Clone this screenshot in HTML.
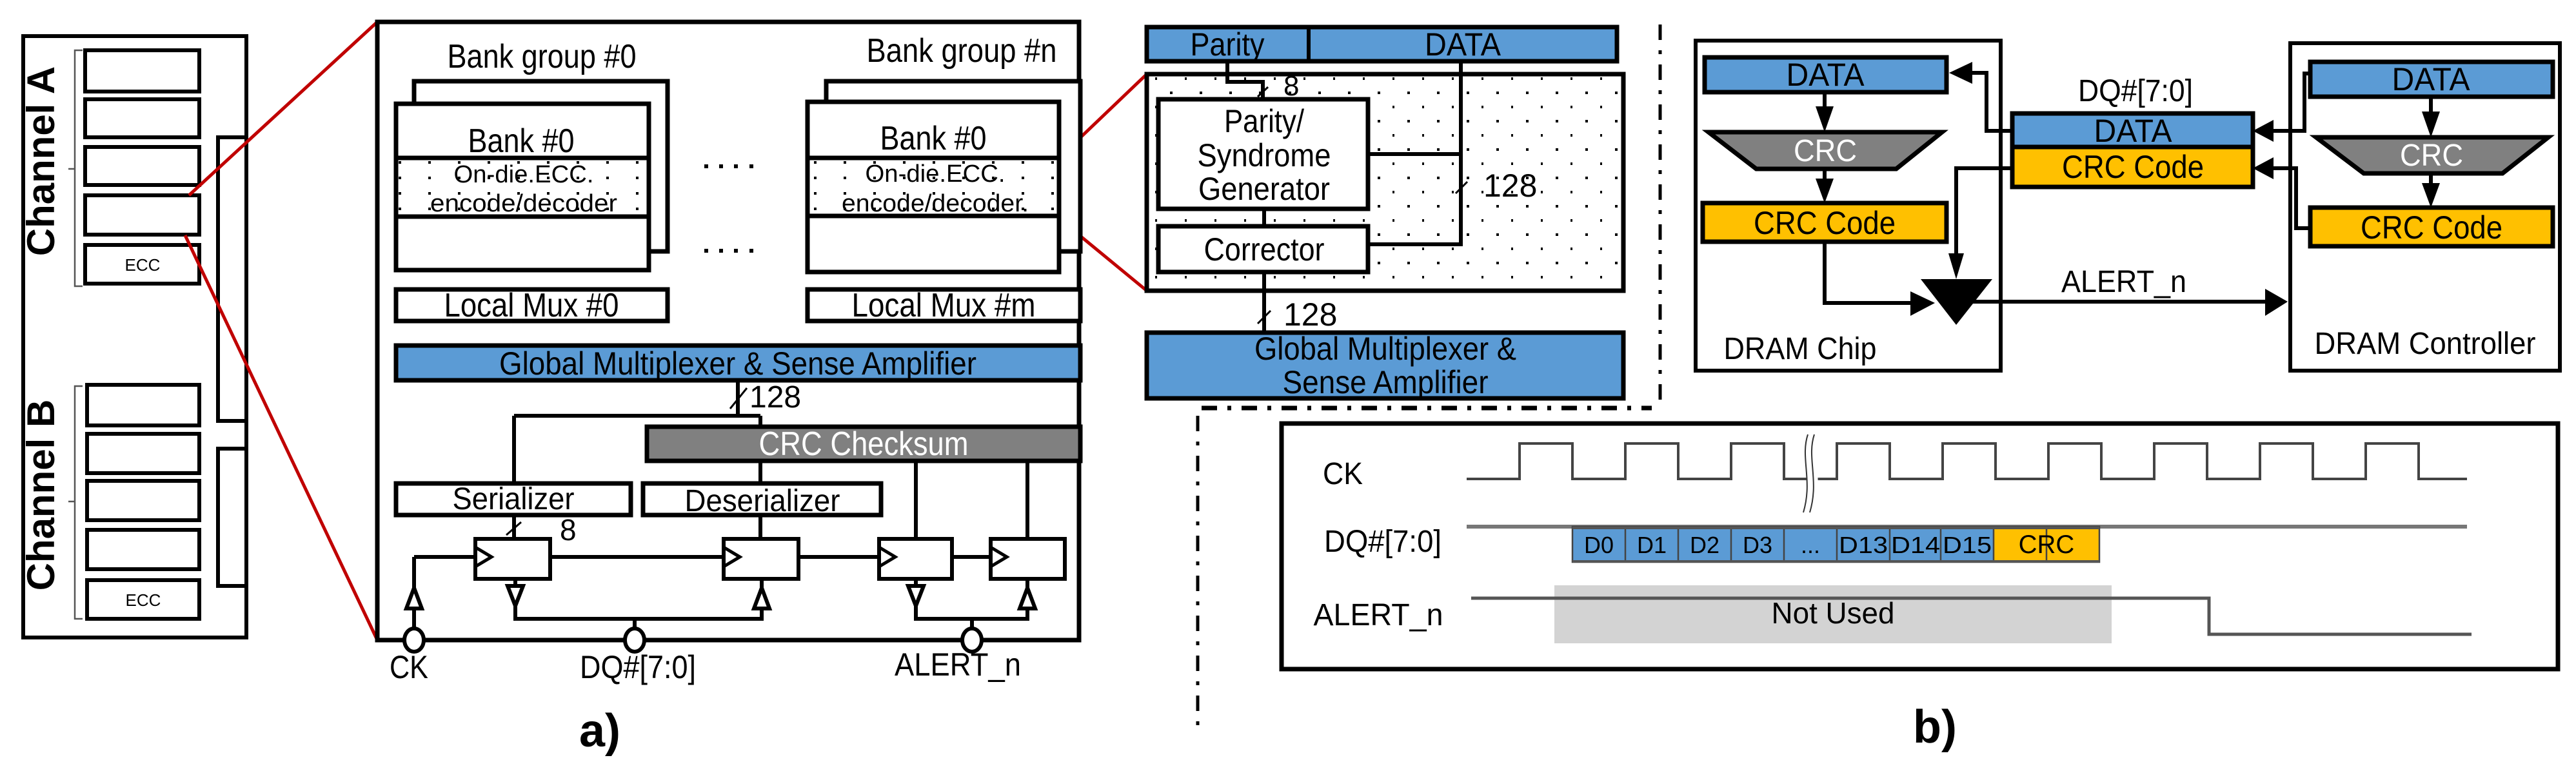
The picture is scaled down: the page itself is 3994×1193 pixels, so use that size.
<!DOCTYPE html>
<html><head><meta charset="utf-8"><style>
html,body{margin:0;padding:0;background:#fff;}
svg{display:block;}
text{font-family:"Liberation Sans Narrow","Liberation Sans",sans-serif;fill:#000;}
</style></head><body>
<svg width="3994" height="1193" viewBox="0 0 3994 1193" xmlns="http://www.w3.org/2000/svg">
<defs>
<pattern id="dots" x="0" y="0" width="46" height="24" patternUnits="userSpaceOnUse">
<rect x="20" y="10" width="4" height="4" fill="#000"/>
</pattern>
<pattern id="dots2" x="0" y="0" width="46" height="44" patternUnits="userSpaceOnUse">
<rect x="20" y="10" width="4" height="4" fill="#000"/>
<rect x="43" y="32" width="4" height="4" fill="#000"/>
</pattern>
</defs>
<rect width="3994" height="1193" fill="#fff"/>

<!-- ===== Left channel panel ===== -->
<g fill="none" stroke="#000" stroke-width="6">
<rect x="36" y="56" width="346" height="933"/>
<rect x="132" y="78" width="177" height="64"/>
<rect x="132" y="154" width="177" height="59"/>
<rect x="132" y="228" width="177" height="59"/>
<rect x="132" y="303" width="177" height="61"/>
<rect x="132" y="380" width="177" height="60"/>
<rect x="135" y="597" width="174" height="63"/>
<rect x="135" y="673" width="174" height="61"/>
<rect x="135" y="746" width="174" height="61"/>
<rect x="135" y="822" width="174" height="61"/>
<rect x="135" y="900" width="174" height="60"/>
<path d="M382 213 H338 V653 H382"/>
<path d="M382 696 H338 V909 H382"/>
</g>
<g fill="none" stroke="#555" stroke-width="2.5">
<path d="M128 78 H116 V444 H128 M116 262 H106"/>
<path d="M128 599 H116 V960 H128 M116 778 H106"/>
</g>
<text x="221" y="420" font-size="26" text-anchor="middle" font-family="Liberation Sans">ECC</text>
<text x="222" y="940" font-size="26" text-anchor="middle" font-family="Liberation Sans">ECC</text>
<text transform="translate(84,250) rotate(-90)" font-size="60" font-weight="bold" text-anchor="middle" style="font-family:'Liberation Sans',sans-serif">Channel A</text>
<text transform="translate(84,768) rotate(-90)" font-size="60" font-weight="bold" text-anchor="middle" style="font-family:'Liberation Sans',sans-serif">Channel B</text>

<!-- red zoom lines -->
<g stroke="#c00000" stroke-width="5" fill="none">
<path d="M293 303 L585 34"/>
<path d="M287 365 L585 993"/>
<path d="M1642 245 L1778 115"/>
<path d="M1642 339 L1778 451"/>
</g>

<!-- ===== Panel a main box ===== -->
<rect x="585" y="34" width="1088" height="959" fill="none" stroke="#000" stroke-width="7"/>
<text x="840" y="105" font-size="52" text-anchor="middle" textLength="293" lengthAdjust="spacingAndGlyphs">Bank group #0</text>
<text x="1491" y="96" font-size="52" text-anchor="middle" textLength="295" lengthAdjust="spacingAndGlyphs">Bank group #n</text>

<!-- bank group 0 -->
<rect x="642" y="126" width="393" height="264" fill="#fff" stroke="#000" stroke-width="7"/>
<rect x="614" y="161" width="392" height="258" fill="#fff" stroke="#000" stroke-width="7"/>
<rect x="617" y="248" width="386" height="86" fill="url(#dots)"/>
<path d="M614 245 H1006 M614 336 H1006" stroke="#000" stroke-width="7"/>
<text x="808" y="236" font-size="52" text-anchor="middle" textLength="165" lengthAdjust="spacingAndGlyphs">Bank #0</text>
<text x="812" y="283" font-size="38" text-anchor="middle" textLength="217" lengthAdjust="spacingAndGlyphs">On-die.ECC.</text>
<text x="812" y="328" font-size="38" text-anchor="middle" textLength="290" lengthAdjust="spacingAndGlyphs">encode/decoder</text>

<!-- bank group n -->
<rect x="1281" y="126" width="394" height="264" fill="#fff" stroke="#000" stroke-width="7"/>
<rect x="1252" y="158" width="390" height="264" fill="#fff" stroke="#000" stroke-width="7"/>
<rect x="1255" y="248" width="384" height="84" fill="url(#dots)"/>
<path d="M1252 245 H1642 M1252 335 H1642" stroke="#000" stroke-width="7"/>
<text x="1447" y="232" font-size="52" text-anchor="middle" textLength="165" lengthAdjust="spacingAndGlyphs">Bank #0</text>
<text x="1450" y="282" font-size="38" text-anchor="middle" textLength="217" lengthAdjust="spacingAndGlyphs">On-die.ECC.</text>
<text x="1450" y="328" font-size="38" text-anchor="middle" textLength="290" lengthAdjust="spacingAndGlyphs">encode/decoder.</text>

<g fill="#000">
<rect x="1092" y="255" width="6" height="6"/><rect x="1115" y="255" width="6" height="6"/><rect x="1138" y="255" width="6" height="6"/><rect x="1162" y="255" width="6" height="6"/>
<rect x="1092" y="386" width="6" height="6"/><rect x="1115" y="386" width="6" height="6"/><rect x="1138" y="386" width="6" height="6"/><rect x="1162" y="386" width="6" height="6"/>
</g>

<rect x="614" y="449" width="421" height="49" fill="#fff" stroke="#000" stroke-width="7"/>
<text x="824" y="491" font-size="52" text-anchor="middle" textLength="271" lengthAdjust="spacingAndGlyphs">Local Mux #0</text>
<rect x="1252" y="449" width="423" height="49" fill="#fff" stroke="#000" stroke-width="7"/>
<text x="1463" y="491" font-size="52" text-anchor="middle" textLength="285" lengthAdjust="spacingAndGlyphs">Local Mux #m</text>

<rect x="614" y="536" width="1061" height="54" fill="#5b9bd5" stroke="#000" stroke-width="7"/>
<text x="1144" y="581" font-size="50" text-anchor="middle" textLength="740" lengthAdjust="spacingAndGlyphs">Global Multiplexer &amp; Sense Amplifier</text>

<!-- 128 bus -->
<g stroke="#000" stroke-width="6" fill="none">
<path d="M1144 590 V645 M797 645 H1179 M797 645 V750 M1179 645 V662"/>
<path d="M1132 634 L1158 602" stroke-width="3"/>
</g>
<text x="1162" y="632" font-size="48">128</text>

<rect x="1003" y="662" width="672" height="53" fill="#808080" stroke="#000" stroke-width="7"/>
<text x="1339" y="706" font-size="52" text-anchor="middle" style="fill:#fff" textLength="325" lengthAdjust="spacingAndGlyphs">CRC Checksum</text>

<rect x="614" y="750" width="364" height="49" fill="#fff" stroke="#000" stroke-width="7"/>
<text x="796" y="790" font-size="48" text-anchor="middle" textLength="189" lengthAdjust="spacingAndGlyphs">Serializer</text>
<rect x="997" y="750" width="369" height="49" fill="#fff" stroke="#000" stroke-width="7"/>
<text x="1182" y="793" font-size="48" text-anchor="middle" textLength="241" lengthAdjust="spacingAndGlyphs">Deserializer</text>

<g stroke="#000" stroke-width="6" fill="none">
<path d="M797 799 V836"/>
<path d="M785 830 L808 810" stroke-width="3"/>
<path d="M1179 715 V750 M1179 799 V836"/>
<path d="M1420 715 V836 M1593 715 V836"/>
<path d="M642 864 H737 M853 864 H1122 M1238 864 H1363 M1476 864 H1536"/>
<path d="M642 864 V978"/>
<path d="M799 898 V960 H1181 V898 M984 960 V978"/>
<path d="M1420 898 V960 H1593 V898 M1507 960 V978"/>
</g>
<text x="868" y="838" font-size="46">8</text>

<g fill="#fff" stroke="#000" stroke-width="6">
<rect x="737" y="836" width="116" height="62"/>
<rect x="1122" y="836" width="116" height="62"/>
<rect x="1363" y="836" width="113" height="62"/>
<rect x="1536" y="836" width="115" height="62"/>
</g>
<g fill="none" stroke="#000" stroke-width="5">
<path d="M737 849 L762 864 L737 879"/>
<path d="M1122 849 L1147 864 L1122 879"/>
<path d="M1363 849 L1388 864 L1363 879"/>
<path d="M1536 849 L1561 864 L1536 879"/>
</g>
<g fill="#fff" stroke="#000" stroke-width="6">
<path d="M642 912 L630 944 L654 944 Z"/>
<path d="M787 909 L811 909 L799 940 Z"/>
<path d="M1181 912 L1169 944 L1193 944 Z"/>
<path d="M1408 909 L1432 909 L1420 940 Z"/>
<path d="M1593 912 L1581 944 L1605 944 Z"/>
</g>
<g fill="#fff" stroke="#000" stroke-width="6">
<ellipse cx="642" cy="993" rx="15" ry="18"/>
<ellipse cx="984" cy="993" rx="15" ry="18"/>
<ellipse cx="1507" cy="993" rx="15" ry="18"/>
</g>
<text x="634" y="1052" font-size="50" text-anchor="middle" textLength="60" lengthAdjust="spacingAndGlyphs">CK</text>
<text x="989" y="1052" font-size="50" text-anchor="middle" textLength="180" lengthAdjust="spacingAndGlyphs">DQ#[7:0]</text>
<text x="1485" y="1048" font-size="50" text-anchor="middle" textLength="196" lengthAdjust="spacingAndGlyphs">ALERT_n</text>
<text x="930" y="1158" font-size="72" font-weight="bold" text-anchor="middle" style="font-family:'Liberation Sans',sans-serif">a)</text>

<!-- ===== ECC detail ===== -->
<rect x="1778" y="42" width="729" height="53" fill="#5b9bd5" stroke="#000" stroke-width="7"/>
<path d="M2029 42 V95" stroke="#000" stroke-width="6"/>
<text x="1903" y="86" font-size="50" text-anchor="middle" textLength="115" lengthAdjust="spacingAndGlyphs">Parity</text>
<text x="2268" y="86" font-size="50" text-anchor="middle" textLength="118" lengthAdjust="spacingAndGlyphs">DATA</text>

<rect x="1778" y="115" width="739" height="336" fill="#fff" stroke="#000" stroke-width="7"/>
<rect x="1782" y="119" width="731" height="328" fill="url(#dots2)"/>
<g stroke="#000" stroke-width="6" fill="none">
<path d="M1903 95 V127 H1958 V154"/>
<path d="M1950 150 L1966 135" stroke-width="3"/>
<path d="M2265 95 V379 H2121 M2121 239 H2265"/>
<path d="M2257 300 L2275 282" stroke-width="3"/>
<path d="M1960 324 V351 M1960 422 V516"/>
<path d="M1950 502 L1970 482" stroke-width="3"/>
</g>
<text x="1990" y="148" font-size="44">8</text>
<text x="2300" y="305" font-size="50">128</text>
<text x="1990" y="505" font-size="50">128</text>
<rect x="1796" y="154" width="325" height="170" fill="#fff" stroke="#000" stroke-width="7"/>
<text x="1960" y="205" font-size="50" text-anchor="middle" textLength="124" lengthAdjust="spacingAndGlyphs">Parity/</text>
<text x="1960" y="258" font-size="50" text-anchor="middle" textLength="207" lengthAdjust="spacingAndGlyphs">Syndrome</text>
<text x="1960" y="310" font-size="50" text-anchor="middle" textLength="204" lengthAdjust="spacingAndGlyphs">Generator</text>
<rect x="1796" y="351" width="325" height="71" fill="#fff" stroke="#000" stroke-width="7"/>
<text x="1960" y="404" font-size="50" text-anchor="middle" textLength="187" lengthAdjust="spacingAndGlyphs">Corrector</text>
<rect x="1778" y="516" width="739" height="102" fill="#5b9bd5" stroke="#000" stroke-width="7"/>
<text x="2148" y="558" font-size="50" text-anchor="middle" textLength="406" lengthAdjust="spacingAndGlyphs">Global Multiplexer &amp;</text>
<text x="2148" y="610" font-size="50" text-anchor="middle" textLength="319" lengthAdjust="spacingAndGlyphs">Sense Amplifier</text>

<g stroke="#000" stroke-width="5" fill="none">
<path d="M2574 38 V623" stroke-dasharray="24,16,6,16"/>
<path d="M1863 633 H2561" stroke-dasharray="24,16,6,16" stroke-width="7"/>
<path d="M1857 645 V1129" stroke-dasharray="24,16,6,16"/>
</g>

<!-- ===== Panel b top ===== -->
<rect x="2629" y="63" width="473" height="512" fill="none" stroke="#000" stroke-width="6"/>
<rect x="3551" y="67" width="418" height="508" fill="none" stroke="#000" stroke-width="6"/>

<rect x="2643" y="89" width="375" height="54" fill="#5b9bd5" stroke="#000" stroke-width="7"/>
<text x="2830" y="133" font-size="50" text-anchor="middle" textLength="121" lengthAdjust="spacingAndGlyphs">DATA</text>
<path d="M2649 205 L3011 205 L2940 262 L2723 262 Z" fill="#808080" stroke="#000" stroke-width="7"/>
<text x="2830" y="250" font-size="48" text-anchor="middle" style="fill:#fff" textLength="98" lengthAdjust="spacingAndGlyphs">CRC</text>
<rect x="2640" y="315" width="378" height="60" fill="#ffc000" stroke="#000" stroke-width="7"/>
<text x="2829" y="363" font-size="50" text-anchor="middle" textLength="220" lengthAdjust="spacingAndGlyphs">CRC Code</text>

<rect x="3120" y="176" width="373" height="52" fill="#5b9bd5" stroke="#000" stroke-width="7"/>
<rect x="3120" y="228" width="373" height="62" fill="#ffc000" stroke="#000" stroke-width="7"/>
<text x="3307" y="220" font-size="50" text-anchor="middle" textLength="121" lengthAdjust="spacingAndGlyphs">DATA</text>
<text x="3307" y="276" font-size="50" text-anchor="middle" textLength="220" lengthAdjust="spacingAndGlyphs">CRC Code</text>
<text x="3311" y="157" font-size="48" text-anchor="middle" textLength="178" lengthAdjust="spacingAndGlyphs">DQ#[7:0]</text>

<rect x="3582" y="96" width="376" height="54" fill="#5b9bd5" stroke="#000" stroke-width="7"/>
<text x="3769" y="140" font-size="50" text-anchor="middle" textLength="121" lengthAdjust="spacingAndGlyphs">DATA</text>
<path d="M3591 213 L3951 213 L3880 269 L3665 269 Z" fill="#808080" stroke="#000" stroke-width="7"/>
<text x="3770" y="257" font-size="48" text-anchor="middle" style="fill:#fff" textLength="98" lengthAdjust="spacingAndGlyphs">CRC</text>
<rect x="3582" y="322" width="376" height="60" fill="#ffc000" stroke="#000" stroke-width="7"/>
<text x="3770" y="370" font-size="50" text-anchor="middle" textLength="220" lengthAdjust="spacingAndGlyphs">CRC Code</text>

<g stroke="#000" stroke-width="6" fill="none">
<path d="M2829 143 V180 M2829 262 V292"/>
<path d="M3120 203 H3080 V113 H3045"/>
<path d="M3120 261 H3033 V410"/>
<path d="M2829 375 V470 H2978"/>
<path d="M3040 468 H3520"/>
<path d="M3769 150 V190 M3769 269 V298"/>
<path d="M3582 114 H3573 V203 H3518"/>
<path d="M3582 354 H3560 V261 H3518"/>
</g>
<g fill="#000">
<path d="M2815 165 L2843 165 L2829 205 Z"/>
<path d="M2815 277 L2843 277 L2829 315 Z"/>
<path d="M3022 113 L3058 96 L3058 130 Z"/>
<path d="M3493 203 L3525 186 L3525 220 Z"/>
<path d="M3493 261 L3525 244 L3525 278 Z"/>
<path d="M3755 173 L3783 173 L3769 213 Z"/>
<path d="M3755 284 L3783 284 L3769 322 Z"/>
<path d="M3021 393 L3045 393 L3033 433 Z"/>
<path d="M2962 452 L3000 470 L2962 490 Z"/>
<path d="M2978 433 L3089 433 L3033 504 Z"/>
<path d="M3547 468 L3512 448 L3512 490 Z"/>
</g>
<text x="3293" y="453" font-size="48" text-anchor="middle" textLength="194" lengthAdjust="spacingAndGlyphs">ALERT_n</text>
<text x="2791" y="557" font-size="48" text-anchor="middle" textLength="237" lengthAdjust="spacingAndGlyphs">DRAM Chip</text>
<text x="3760" y="549" font-size="48" text-anchor="middle" textLength="343" lengthAdjust="spacingAndGlyphs">DRAM Controller</text>

<!-- ===== Timing diagram ===== -->
<rect x="1987" y="657" width="1979" height="381" fill="none" stroke="#000" stroke-width="7"/>
<text x="2082" y="751" font-size="48" text-anchor="middle" textLength="62" lengthAdjust="spacingAndGlyphs">CK</text>
<text x="2144" y="856" font-size="48" text-anchor="middle" textLength="182" lengthAdjust="spacingAndGlyphs">DQ#[7:0]</text>
<text x="2137" y="970" font-size="48" text-anchor="middle" textLength="201" lengthAdjust="spacingAndGlyphs">ALERT_n</text>

<path d="M2274 743 H2356 V688 H2438 V743 H2520 V688 H2602 V743 H2684 V688 H2766 V743 H2848 V688 H2930 V743 H3012 V688 H3094 V743 H3176 V688 H3258 V743 H3340 V688 H3422 V743 H3504 V688 H3586 V743 H3668 V688 H3750 V743 H3825" fill="none" stroke="#444" stroke-width="4"/>
<path d="M2807 674 C2795 710 2815 745 2800 795 M2815 674 C2803 710 2823 745 2808 795" stroke="#fff" stroke-width="10" fill="none"/>
<path d="M2803 674 C2791 710 2811 745 2796 795 M2813 674 C2801 710 2821 745 2806 795" stroke="#333" stroke-width="2" fill="none"/>

<path d="M2274 817 H3825" stroke="#777" stroke-width="6"/>
<rect x="2438" y="817" width="653" height="55" fill="#5b9bd5"/>
<rect x="3091" y="817" width="164" height="55" fill="#ffc000"/>
<g stroke="#444" stroke-width="2.5" fill="none">
<rect x="2438" y="817" width="817" height="55"/>
<path d="M2520 817 V872 M2602 817 V872 M2684 817 V872 M2766 817 V872 M2848 817 V872 M2930 817 V872 M3009 817 V872 M3091 817 V872 M3173 817 V872"/>
</g>
<path d="M2438 819 H3255 M2438 871 H3255" stroke="#555" stroke-width="4"/>
<g font-size="36" text-anchor="middle">
<text x="2479" y="858">D0</text>
<text x="2561" y="858">D1</text>
<text x="2643" y="858">D2</text>
<text x="2725" y="858">D3</text>
<text x="2807" y="858">...</text>
<text x="2889" y="858" textLength="76" lengthAdjust="spacingAndGlyphs">D13</text>
<text x="2970" y="858" textLength="76" lengthAdjust="spacingAndGlyphs">D14</text>
<text x="3050" y="858" textLength="76" lengthAdjust="spacingAndGlyphs">D15</text>
<text x="3173" y="858" font-size="40">CRC</text>
</g>

<rect x="2410" y="908" width="864" height="90" fill="#d3d3d3"/>
<path d="M2281 928 H3425 V984 H3832" fill="none" stroke="#555" stroke-width="5"/>
<text x="2842" y="967" font-size="46" text-anchor="middle" textLength="191" lengthAdjust="spacingAndGlyphs">Not Used</text>

<text x="3000" y="1152" font-size="72" font-weight="bold" text-anchor="middle" style="font-family:'Liberation Sans',sans-serif">b)</text>
</svg>
</body></html>
